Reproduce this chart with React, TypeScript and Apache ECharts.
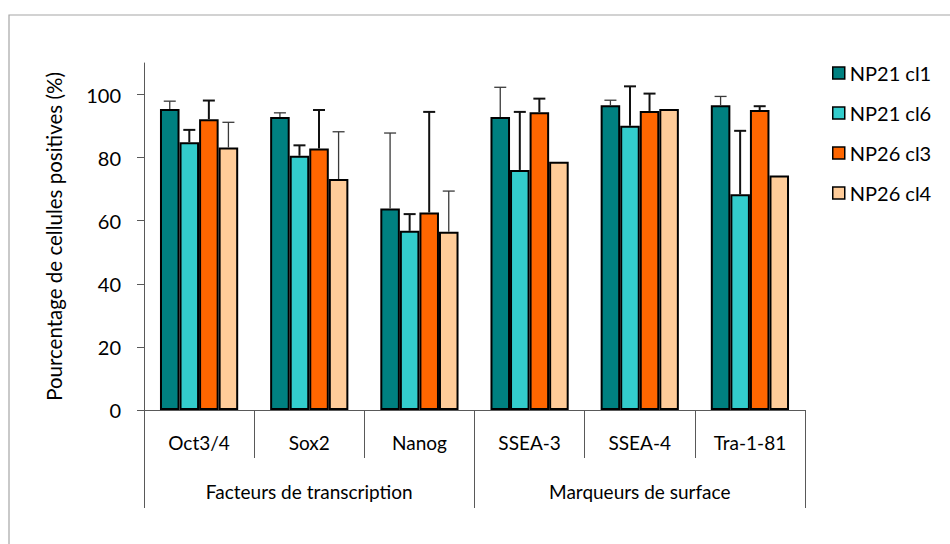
import React, { useEffect, useRef } from "react";
import * as echarts from "echarts";

const categories = ["Oct3/4", "Sox2", "Nanog", "SSEA-3", "SSEA-4", "Tra-1-81"];
const groups = ["Facteurs de transcription", "Marqueurs de surface"];
const seriesNames = ["NP21 cl1", "NP21 cl6", "NP26 cl3", "NP26 cl4"];
const np21cl1 = [95.4, 92.9, 63.9, 92.9, 96.6, 96.6];
const np21cl6 = [84.9, 80.6, 56.8, 76.1, 90.1, 68.4];
const np26cl3 = [92.2, 82.9, 62.6, 94.4, 94.8, 95.1];
const np26cl4 = [83.2, 73.2, 56.5, 78.7, 95.4, 74.3];
const err21cl1 = [2.5, 1.3, 23.9, 9.4, 1.6, 2.8];
const err21cl6 = [3.9, 3.3, 5.3, 18.4, 12.5, 20.1];
const err26cl3 = [5.9, 12.2, 31.9, 4.3, 5.5, 1.2];
const err26cl4 = [8.0, 15.0, 12.9, 0, 0, 0];
const yTicks = [0, 20, 40, 60, 80, 100];

const colors = ["#008080", "#33CCCC", "#FF6600", "#FFCC99"];
const FONT = "Lato";
const GAP = 0.29;

export default function App() {
  const ref = useRef<HTMLDivElement>(null);
  useEffect(() => {
    if (!ref.current) return;
    const chart = echarts.init(ref.current, undefined, { renderer: "svg" });
    const values = [np21cl1, np21cl6, np26cl3, np26cl4];
    const errs = [err21cl1, err21cl6, err26cl3, err26cl4];
    const errStyles = [
      { stroke: "#3a3a3a", lineWidth: 1.3 },
      { stroke: "#111", lineWidth: 2 },
      { stroke: "#111", lineWidth: 2 },
      { stroke: "#3a3a3a", lineWidth: 1.3 },
    ];
    const barSeries = seriesNames.map((name, k) => ({
      type: "bar",
      name,
      data: values[k],
      barGap: "0%",
      barCategoryGap: GAP * 100 + "%",
      itemStyle: { color: colors[k], borderColor: "#000", borderWidth: 2 },
      xAxisIndex: 0,
      yAxisIndex: 0,
    }));
    const errSeries = seriesNames.map((name, k) => ({
      type: "custom",
      name: name + " err",
      xAxisIndex: 0,
      yAxisIndex: 0,
      silent: true,
      z: 5,
      data: categories.map((_, i) => [i, values[k][i], values[k][i] + errs[k][i]]),
      renderItem: (params: any, api: any) => {
        const i = api.value(0);
        const v = api.value(1);
        const top = api.value(2);
        if (top <= v) return null;
        const band = api.size([1, 0])[0];
        const groupW = band * (1 - GAP);
        const barW = groupW / 4;
        const c = api.coord([i, v]);
        const t = api.coord([i, top]);
        const x = c[0] - groupW / 2 + barW * (k + 0.5);
        const cap = 6;
        return {
          type: "group",
          children: [
            { type: "line", shape: { x1: x, y1: c[1], x2: x, y2: t[1] }, style: errStyles[k] },
            { type: "line", shape: { x1: x - cap, y1: t[1], x2: x + cap, y2: t[1] }, style: errStyles[k] },
          ],
        };
      },
    }));
    chart.setOption({
      animation: false,
      textStyle: { fontFamily: FONT },
      graphic: [
        {
          type: "rect",
          shape: { x: 9, y: 15, width: 960, height: 560 },
          style: { fill: "none", stroke: "#a6a6a6", lineWidth: 1.2 },
          silent: true,
        },
      ],
      grid: { left: 144, top: 63, right: 145, bottom: 134 },
      legend: {
        orient: "vertical",
        left: 832,
        top: 63,
        padding: 0,
        itemWidth: 12,
        itemHeight: 12,
        itemGap: 20,
        icon: "rect",
        data: seriesNames.map((n, k) => ({
          name: n,
          itemStyle: { color: colors[k], borderColor: "#000", borderWidth: 1.5 },
        })),
        textStyle: { fontFamily: FONT, fontSize: 20, color: "#000" },
      },
      xAxis: [
        {
          type: "category",
          data: categories,
          position: "bottom",
          axisLine: { show: true, lineStyle: { color: "#595959", width: 1 } },
          axisTick: { show: true, interval: 0, length: 48, lineStyle: { color: "#595959" } },
          axisLabel: { interval: 0, margin: 23, fontSize: 19, color: "#000", fontFamily: FONT },
        },
        {
          type: "category",
          data: groups,
          position: "bottom",
          axisLine: { show: false },
          axisTick: { show: true, interval: 0, length: 98, lineStyle: { color: "#595959" } },
          axisLabel: { interval: 0, margin: 72, fontSize: 19, color: "#000", fontFamily: FONT },
        },
      ],
      yAxis: {
        type: "value",
        min: 0,
        max: 110,
        interval: 20,
        name: "Pourcentage de cellules positives (%)",
        nameLocation: "middle",
        nameGap: 80,
        nameTextStyle: { fontSize: 20.5, color: "#000", fontFamily: FONT },
        splitLine: { show: false },
        axisLine: { show: true, lineStyle: { color: "#595959", width: 1 } },
        axisTick: { show: true, length: 7, customValues: yTicks, lineStyle: { color: "#595959" } },
        axisLabel: { margin: 23, fontSize: 20, color: "#000", fontFamily: FONT, customValues: yTicks },
      },
      series: [...barSeries, ...errSeries],
    });
    return () => chart.dispose();
  }, []);
  return (
    <div
      ref={ref}
      style={{ position: "fixed", left: 0, top: 0, width: 950, height: 544, background: "#fff" }}
    />
  );
}
